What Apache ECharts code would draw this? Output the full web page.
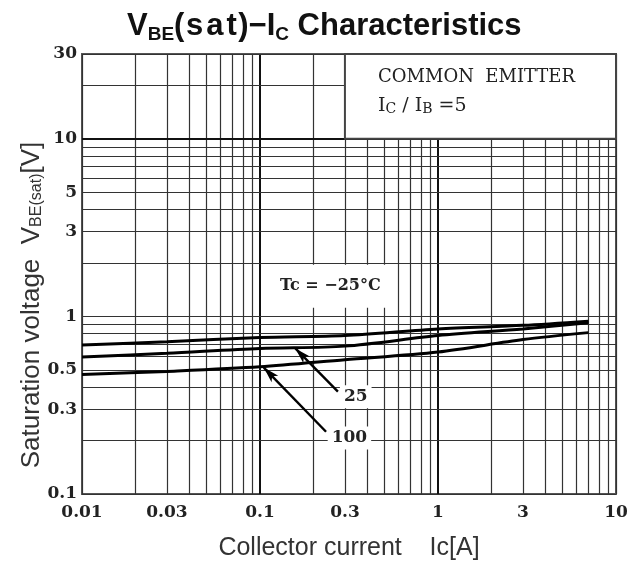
<!DOCTYPE html>
<html><head><meta charset="utf-8">
<script src="https://cdn.jsdelivr.net/npm/echarts@6/dist/echarts.min.js"></script>
<style>html,body{margin:0;padding:0;background:#fff}#c{width:637px;height:564px}</style>
</head><body><div id="c"></div>
<script>
// ---- data ----
const currentA = [0.01, 0.03, 0.1, 0.3, 1, 3, 7];
const vbeM25 = [0.69, 0.72, 0.76, 0.78, 0.85, 0.89, 0.94];
const vbe25  = [0.59, 0.62, 0.66, 0.68, 0.78, 0.85, 0.92];
const vbe100 = [0.47, 0.49, 0.52, 0.57, 0.63, 0.74, 0.81];

const xGridValues = [0.01,0.02,0.03,0.04,0.05,0.06,0.07,0.08,0.09,
                     0.1,0.2,0.3,0.4,0.5,0.6,0.7,0.8,0.9,
                     1,2,3,4,5,6,7,8,9,10];
const xTickLabels = ['0.01','0.03','0.1','0.3','1','3','10'];
const yGridValues = [0.1,0.2,0.3,0.4,0.5,0.6,0.7,0.8,0.9,
                     1,2,3,4,5,6,7,8,9,10,20,30];
const yTickLabels = ['0.1','0.3','0.5','1','3','5','10','30'];
const xMajor = [0.1, 1];
const yMajor = [10];

const serif = 'DejaVu Serif';
const tickFont = {fontFamily:serif, fontWeight:'bold', fontSize:17, color:'#222'};

function fmt(v){ return String(v); }

const xLines = xGridValues.map(v => {
  const lbl = xTickLabels.indexOf(fmt(v)) >= 0;
  return {
    xAxis: v,
    lineStyle: {color: xMajor.includes(v) ? '#111' : '#333', width: xMajor.includes(v) ? 2 : 1.2, type:'solid'},
    label: lbl ? Object.assign({show:true, position:'start', distance:10, formatter: fmt(v)}, tickFont) : {show:false}
  };
});
const yLines = yGridValues.map(v => {
  const lbl = yTickLabels.indexOf(fmt(v)) >= 0;
  return {
    yAxis: v,
    lineStyle: {color: yMajor.includes(v) ? '#111' : '#333', width: yMajor.includes(v) ? 2 : 1.2, type:'solid'},
    label: lbl ? Object.assign({show:true, position:'start', distance:5, formatter: fmt(v)}, tickFont) : {show:false}
  };
});

const chart = echarts.init(document.getElementById('c'), null, {renderer:'canvas'});
const curveStyle = {color:'#000', width:3};
const tA = {fontFamily:'Liberation Sans', fontWeight:'bold', fontSize:31, color:'#111', verticalAlign:'bottom', lineHeight:34};
chart.setOption({
  animation:false,
  backgroundColor:'#fff',
  title:{
    text:'{a|V}{b|BE}{a|(}{c|s}{c|a}{c|t}{a|)−I}{b|C}{a| Characteristics}',
    left:122, top:3,
    textStyle:{rich:{
      a:tA,
      c:Object.assign({}, tA, {padding:[0,1.5,0,1.5]}),
      b:{fontFamily:'Liberation Sans', fontWeight:'bold', fontSize:19, color:'#111', verticalAlign:'bottom', lineHeight:34, padding:[0,0,-2,0]}
    }}
  },
  grid:{left:82, right:21, top:54, bottom:70, show:true, borderColor:'#555', borderWidth:2, backgroundColor:'#fff',
        containLabel:false, outerBoundsMode:'none'},
  xAxis:{type:'log', logBase:10, min:0.01, max:10,
    axisLine:{show:false}, axisTick:{show:false}, axisLabel:{show:false}, splitLine:{show:false},
    name:'Collector current    Ic[A]', nameLocation:'middle', nameGap:42,
    nameTextStyle:{fontFamily:'Liberation Sans', fontSize:25, color:'#333'}},
  yAxis:{type:'log', logBase:10, min:0.1, max:30,
    axisLine:{show:false}, axisTick:{show:false}, axisLabel:{show:false}, splitLine:{show:false}},
  graphic:[
    {type:'text', x:30, y:305, rotation:Math.PI/2, z:10,
      style:{text:'{a|Saturation voltage  V}{b|BE(sat)}{a|[V]}', textAlign:'center', textVerticalAlign:'middle',
        rich:{a:{fontFamily:'Liberation Sans', fontSize:26, fill:'#333', verticalAlign:'bottom', lineHeight:30},
              b:{fontFamily:'Liberation Sans', fontSize:16, fill:'#333', verticalAlign:'bottom', lineHeight:30}}}},
    {type:'text', x:378, y:77, z:10,
      style:{text:'COMMON  EMITTER', font:'18px "DejaVu Serif"', fill:'#222', textVerticalAlign:'middle'}},
    {type:'text', x:378, y:104, z:10,
      style:{text:'{a|I}{b|C}{a| / I}{b|B}{a| =5}', textVerticalAlign:'middle',
        rich:{a:{fontFamily:serif, fontSize:19, fill:'#222', verticalAlign:'bottom', lineHeight:24},
              b:{fontFamily:serif, fontSize:14, fill:'#222', verticalAlign:'bottom', lineHeight:20}}}}
  ],
  series:[
    {type:'line', z:1, data:[], silent:true,
      markLine:{z:1, silent:true, symbol:'none', animation:false, data: xLines.concat(yLines)}},
    {type:'line', z:2, data:[], silent:true,
      markArea:{z:2, silent:true, animation:false, data:[
        [{xAxis:0.3, yAxis:10, itemStyle:{color:'#fff', borderColor:'#444', borderWidth:2}}, {xAxis:10, yAxis:30}],
        [{xAxis:0.112, yAxis:1.12, itemStyle:{color:'#fff', borderWidth:0},
          label:{show:true, position:'inside', formatter:'Tc = −25°C', fontFamily:serif, fontWeight:'bold', fontSize:16, color:'#222'}},
         {xAxis:0.55, yAxis:1.95}]
      ]}},
    {type:'line', z:3, name:'-25', data: currentA.map((x,i)=>[x, vbeM25[i]]), showSymbol:false, smooth:0.3, lineStyle:curveStyle},
    {type:'line', z:3, name:'25', data: currentA.map((x,i)=>[x, vbe25[i]]), showSymbol:false, smooth:0.3, lineStyle:curveStyle},
    {type:'line', z:3, name:'100', data: currentA.map((x,i)=>[x, vbe100[i]]), showSymbol:false, smooth:0.3, lineStyle:curveStyle},
    {type:'line', z:4, data:[], silent:true,
      markLine:{z:5, silent:true, animation:false, symbol:['arrow','none'], symbolSize:[7,16],
        lineStyle:{color:'#000', width:2.4, type:'solid'},
        label:{show:false},
        data:[
          [{coord:[0.158, 0.66]}, {coord:[0.274, 0.377]}],
          [{coord:[0.105, 0.515]}, {coord:[0.235, 0.224]}]
        ]},
      markPoint:{z:6, silent:true, animation:false, symbol:'circle', symbolSize:1,
        itemStyle:{color:'rgba(0,0,0,0)'},
        label:{show:true, position:'inside', fontFamily:serif, fontWeight:'bold', fontSize:17, color:'#222',
               backgroundColor:'#fff', padding:[3,4]},
        data:[
          {coord:[0.345, 0.353], label:{formatter:'25'}},
          {coord:[0.318, 0.207], label:{formatter:'100'}}
        ]}}
  ]
});
</script></body></html>
